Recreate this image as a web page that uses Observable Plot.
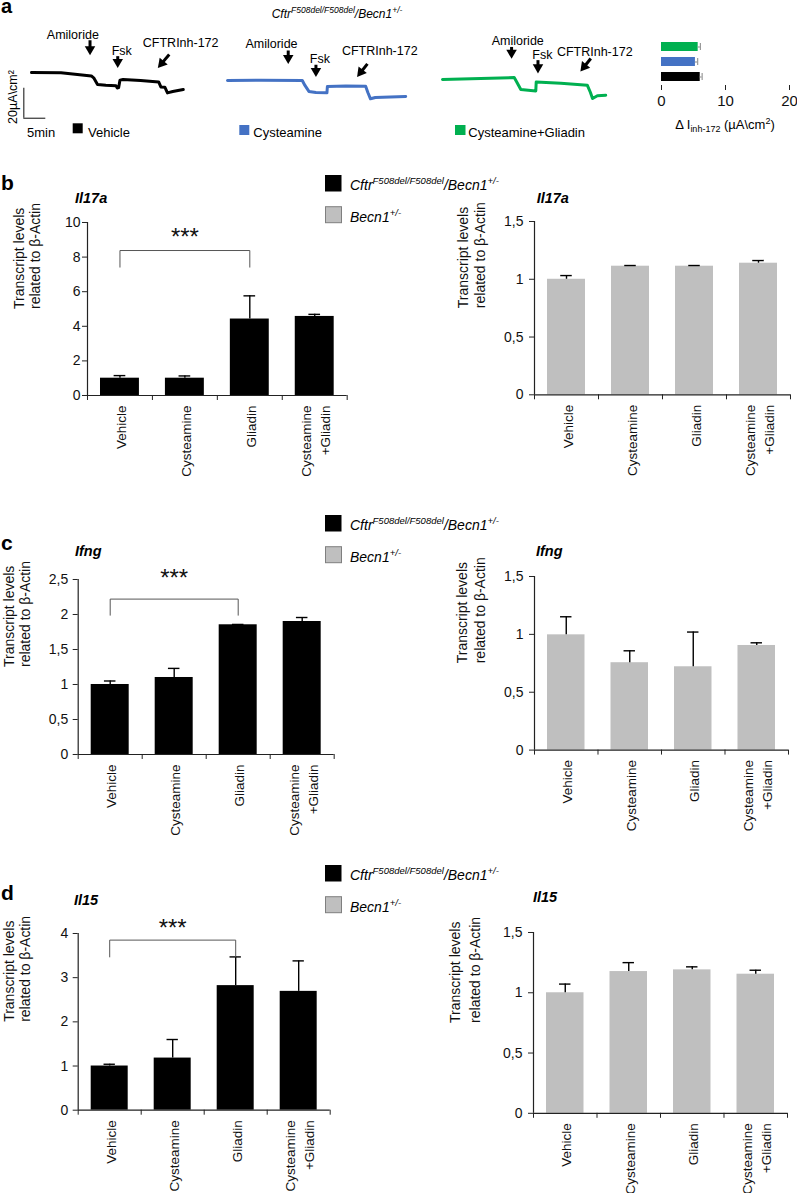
<!DOCTYPE html>
<html><head><meta charset="utf-8">
<script src="https://cdn.jsdelivr.net/npm/d3@7"></script>
<script src="https://cdn.jsdelivr.net/npm/@observablehq/plot@0.6"></script>
<style>
html,body{margin:0;padding:0;background:#fff;}
#fig{position:relative;width:797px;height:1193px;overflow:hidden;font-family:"Liberation Sans",Arial,sans-serif;}
#fig svg{position:absolute;}
</style></head><body><div id="fig"></div>
<script>
// ================= DATA =================
// Panel a: Ussing chamber traces (time in min, current in µA/cm², relative to start)
const vehicleTime    = [0, 6.7, 13.6, 14.2, 15, 16.9, 19.2, 19.5, 19.8, 20.1, 20.8, 24.8, 28.9, 29.4, 30.3, 30.9, 32.1, 34.5];
const vehicleCurrent = [0, -0.1, -2.3, -3.8, -8, -8.5, -8.8, -10.3, -10.1, -5.1, -4.7, -5.3, -6.3, -9.6, -9.8, -13.6, -12.7, -11.3];
const cystTime       = [0, 7.6, 17, 17.6, 18.5, 20.1, 22.6, 22.7, 26.9, 31.4, 31.9, 32.5, 33.6, 37, 40.5];
const cystCurrent    = [0, 0.2, 0, -3.3, -7.3, -8, -8.2, -4, -3.7, -3.8, -8, -12.2, -11.3, -11, -10.7];
const cystGliTime    = [0, 8.7, 16.3, 16.9, 17.8, 21.2, 21.3, 26.9, 32.9, 33.6, 34.1, 35.2, 37.1];
const cystGliCurrent = [0, 0.7, 1.3, -1.8, -6.7, -7.6, -1.6, -2.5, -3.8, -8.5, -12.7, -10.8, -10.5];

// drug additions (label positions and arrows, in trace units)
const eventNames = ["Amiloride", "Fsk", "CFTRInh-172"];
const vehicleEvents = {lt: [9.4, 20.5, 33.9], li: [22.2, 11.5, 17.1], t1: [13.3, 19.6, 31.3], i1: [21.5, 10.9, 12], t2: [13.3, 19.6, 29.6], i2: [15.5, 7, 6.1]};
const cystEvents    = {lt: [10, 21, 34.6], li: [21.5, 11.5, 16.7], t1: [13.8, 20.1, 31.8], i1: [20, 10.5, 11.1], t2: [13.8, 20.1, 30.3], i2: [15, 6.3, 5.5]};
const cystGliEvents = {lt: [17.1, 22.7, 34.6], li: [22.9, 14, 15.5], t1: [15.7, 21.7, 33.7], i1: [21.7, 12.9, 14], t2: [15.7, 21.7, 32.2], i2: [17.8, 8.1, 8.5]};
const scaleBar = {t: -1.75, i: -30.5, dt: 5, di: 20};

// Panel a: Δ I inh-172 (µA/cm²)
const deltaGroups = ["Cysteamine+Gliadin", "Cysteamine", "Vehicle"];
const deltaValues = [5.73, 5.3, 6.05];
const deltaErrors = [0.35, 0.35, 0.3];
const deltaColors = ["#00b050", "#4472c4", "#000000"];
const deltaTicks = [0, 10, 20];

// Panels b–d
const categories = ["Vehicle", "Cysteamine", "Gliadin", "Cysteamine\n+Gliadin"];
const il17aCf      = [1.0, 1.0, 4.42, 4.57];
const il17aCfErr   = [0.15, 0.13, 1.34, 0.12];
const il17aBecn    = [1.0, 1.113, 1.113, 1.139];
const il17aBecnErr = [0.032, 0.006, 0.006, 0.023];
const ifngCf       = [1.0, 1.1, 1.853, 1.9];
const ifngCfErr    = [0.05, 0.13, 0.005, 0.057];
const ifngBecn     = [0.996, 0.755, 0.72, 0.904];
const ifngBecnErr  = [0.156, 0.103, 0.30, 0.023];
const il15Cf       = [1.0, 1.18, 2.82, 2.69];
const il15CfErr    = [0.04, 0.42, 0.65, 0.69];
const il15Becn     = [1.0, 1.176, 1.19, 1.154];
const il15BecnErr  = [0.072, 0.074, 0.025, 0.033];

const ticksB  = [0, 2, 4, 6, 8, 10];
const ticksC  = [0, 0.5, 1, 1.5, 2, 2.5];
const ticksD  = [0, 1, 2, 3, 4];
const ticksR  = [0, 0.5, 1, 1.5];

// ================= LAYOUT / DRAW =================
const FONT = '"Liberation Sans", Arial, sans-serif';
const fig = document.getElementById("fig");
const PXMIN = 4.4, PXUA = 1.5;
const T0 = -5, T1 = 45, I0 = -45, I1 = 30;

function place(svg, left, top) {
  svg.style.left = left + "px";
  svg.style.top = top + "px";
  fig.appendChild(svg);
}

function tracePlot(time, current, color, ev, x0, y0, withScale) {
  const pts = time.map((t, k) => ({t, I: current[k]}));
  const evs = eventNames.map((n, k) => {
    const e = {n, lt: ev.lt[k], li: ev.li[k], t1: ev.t1[k], i1: ev.i1[k], t2: ev.t2[k], i2: ev.i2[k]};
    e.angle = Math.atan2((e.t2 - e.t1) * PXMIN, (e.i2 - e.i1) * PXUA) * 180 / Math.PI;
    return e;
  });
  const marks = [
    Plot.line(pts, {x: "t", y: "I", stroke: color, strokeWidth: 3, strokeLinejoin: "round"}),
    Plot.link(evs, {x1: "t1", y1: "i1", x2: "t2", y2: "i2", stroke: "#000", strokeWidth: 3}),
    Plot.dot(evs, {x: "t2", y: "i2", symbol: "triangle", r: 3.9, fill: "#000", stroke: "none", rotate: "angle"}),
    Plot.text(evs, {x: "lt", y: "li", text: "n", lineAnchor: "bottom", fontSize: 12.5, fill: "#000"})
  ];
  if (withScale) {
    marks.push(Plot.ruleX([scaleBar], {x: "t", y1: "i", y2: d => d.i + d.di, stroke: "#333", strokeWidth: 1.2}));
    marks.push(Plot.ruleY([scaleBar], {y: "i", x1: "t", x2: d => d.t + d.dt, stroke: "#333", strokeWidth: 1.2}));
  }
  const svg = Plot.plot({
    width: (T1 - T0) * PXMIN, height: (I1 - I0) * PXUA, margin: 0,
    x: {domain: [T0, T1], axis: null, label: null}, y: {domain: [I0, I1], axis: null, label: null},
    style: {fontFamily: FONT, overflow: "visible", background: "transparent"},
    marks
  });
  place(svg, x0 + T0 * PXMIN, y0 - I1 * PXUA);
}

tracePlot(vehicleTime, vehicleCurrent, "#000000", vehicleEvents, 30.7, 72.3, true);
tracePlot(cystTime, cystCurrent, "#4472c4", cystEvents, 226.7, 80, false);
tracePlot(cystGliTime, cystGliCurrent, "#00b050", cystGliEvents, 441.7, 79.3, false);

// Δ I inh-172 horizontal bars
(function () {
  const rows = deltaGroups.map((g, k) => ({g, v: deltaValues[k], e: deltaErrors[k], c: deltaColors[k]}));
  const left = 640, top = 30;
  const svg = Plot.plot({
    width: 789 - left + 15, height: 80,
    marginLeft: 661 - left, marginRight: 15, marginTop: 38.3 - top, marginBottom: 25,
    x: {domain: [0, 20], axis: null, label: null},
    y: {domain: deltaGroups, axis: null, label: null, paddingInner: 0.38, paddingOuter: 0.2},
    color: {type: "identity"},
    style: {fontFamily: FONT, fontSize: "15px", overflow: "visible", color: "#111"},
    marks: [
      Plot.barX(rows, {x: "v", y: "g", fill: "c"}),
      Plot.ruleY(rows, {y: "g", x1: "v", x2: d => d.v + d.e, stroke: "#999", strokeWidth: 1.2}),
      Plot.tickX(rows, {y: "g", x: d => d.v + d.e, stroke: "#999", strokeWidth: 1.2, insetTop: 1, insetBottom: 1}),
      Plot.ruleY([0], {frameAnchor: "bottom", stroke: "#222", strokeWidth: 1.2}),
      Plot.axisX({ticks: deltaTicks, tickSize: 5, tickPadding: 5, stroke: "#222", label: null})
    ]
  });
  place(svg, left, top);
})();

// Bar panels b–d
const commaFmt = d => String(d).replace(".", ",");
function barPanel(cfg) {
  const {left, axisX, right, yTop, yZero, yMax, ticks, vals, errs, fill, tickPadding, labelDx, labelLH, bracket} = cfg;
  const marginTop = 45, marginBottom = 95;
  const top = yTop - marginTop;
  const rows = categories.map((c, k) => ({c, k, v: vals[k], e: errs[k]}));
  const marks = [
    Plot.rectY(rows, {x1: d => d.k, x2: d => d.k + 1, y1: 0, y2: "v", fill, insetLeft: 13, insetRight: 13}),
    Plot.ruleX(rows, {x: d => d.k + 0.5, y1: "v", y2: d => d.v + d.e, stroke: "#000", strokeWidth: 1.4}),
    Plot.ruleY(rows, {x1: d => d.k + 0.41, x2: d => d.k + 0.59, y: d => d.v + d.e, stroke: "#000", strokeWidth: 1.4}),
    Plot.ruleX([0], {stroke: "#222", strokeWidth: 1.2}),
    Plot.ruleY([0], {stroke: "#222", strokeWidth: 1.2}),
    Plot.axisY({ticks, tickSize: 5, tickPadding, tickFormat: commaFmt, stroke: "#222", fontSize: 14, label: null}),
    Plot.axisX({ticks: [0, 1, 2, 3, 4], tickSize: 5, tickFormat: () => "", stroke: "#222", label: null}),
    Plot.text(rows, {x: d => d.k + 0.5, y: 0, text: "c", rotate: -90, textAnchor: "end", dy: 10, lineHeight: 1.4, fontSize: 13.5}),
    Plot.text(["Transcript levels\nrelated to β-Actin"], {frameAnchor: "left", dx: labelDx, rotate: -90, lineHeight: labelLH, fontSize: 14})
  ];
  if (bracket) {
    const b = bracket;
    const pts = [[b.from + 0.5, b.leg], [b.from + 0.5, b.top], [b.to + 0.5, b.top], [b.to + 0.5, b.leg]];
    marks.push(Plot.line(pts, {x: d => d[0], y: d => d[1], stroke: "#555", strokeWidth: 1}));
    marks.push(Plot.text([b], {x: d => (d.from + d.to) / 2 + 0.5, y: "star", text: () => "***", fontSize: 24, dy: 6}));
  }
  const svg = Plot.plot({
    width: right - left + 12, height: (yZero - top) + marginBottom,
    marginLeft: axisX - left, marginRight: 12, marginTop, marginBottom,
    x: {domain: [0, 4], axis: null, label: null},
    y: {domain: [0, yMax], axis: null, label: null},
    style: {fontFamily: FONT, fontSize: "14px", overflow: "visible", color: "#111"},
    marks
  });
  place(svg, left, top);
}

barPanel({left: 0, axisX: 87, right: 346.7, yTop: 222, yZero: 395, yMax: 10, ticks: ticksB, vals: il17aCf, errs: il17aCfErr, fill: "#000", tickPadding: 2, labelDx: -60.5, labelLH: 1.15,
  bracket: {from: 0, to: 2, top: 8.38, leg: 7.42, star: 9.5}});
barPanel({left: 390, axisX: 534, right: 790, yTop: 221, yZero: 394.3, yMax: 1.5, ticks: ticksR, vals: il17aBecn, errs: il17aBecnErr, fill: "#bfbfbf", tickPadding: 6, labelDx: -63, labelLH: 1.2});
barPanel({left: 0, axisX: 77.7, right: 333.7, yTop: 579, yZero: 754, yMax: 2.5, ticks: ticksC, vals: ifngCf, errs: ifngCfErr, fill: "#000", tickPadding: 5, labelDx: -61.7, labelLH: 1.15,
  bracket: {from: 0, to: 2, top: 2.22, leg: 1.99, star: 2.6}});
barPanel({left: 390, axisX: 534, right: 788, yTop: 575.7, yZero: 749.3, yMax: 1.5, ticks: ticksR, vals: ifngBecn, errs: ifngBecnErr, fill: "#bfbfbf", tickPadding: 6, labelDx: -64, labelLH: 1.3});
barPanel({left: 0, axisX: 77.7, right: 329.7, yTop: 933.3, yZero: 1110, yMax: 4, ticks: ticksD, vals: il15Cf, errs: il15CfErr, fill: "#000", tickPadding: 5, labelDx: -61.7, labelLH: 1.15,
  bracket: {from: 0, to: 2, top: 3.85, leg: 3.47, star: 4.26}});
barPanel({left: 390, axisX: 533, right: 787, yTop: 931.7, yZero: 1112.5, yMax: 1.5, ticks: ticksR, vals: il15Becn, errs: il15BecnErr, fill: "#bfbfbf", tickPadding: 6, labelDx: -70, labelLH: 1.45});

// ================= TEXT OVERLAY =================
function genotype(x, y, fs, sfs, shift) {
  return `<text x="${x}" y="${y}" font-size="${fs}" font-style="italic">Cftr<tspan font-size="${sfs}" dy="${-shift}">F508del/F508del</tspan><tspan font-size="${fs}" dy="${shift}">/Becn1</tspan><tspan font-size="${sfs}" dy="${-shift}">+/-</tspan></text>`;
}
function becn(x, y, fs, sfs, shift) {
  return `<text x="${x}" y="${y}" font-size="${fs}" font-style="italic">Becn1<tspan font-size="${sfs}" dy="${-shift}">+/-</tspan></text>`;
}
function legend(y1, y2) {
  return `<rect x="325" y="${y1 - 15}" width="16.5" height="16.5" fill="#000"/>` + genotype(350, y1, 14, 9.5, 6) +
         `<rect x="325.5" y="${y2 - 15}" width="16" height="16" fill="#bfbfbf" stroke="#7f7f7f" stroke-width="1"/>` + becn(350, y2, 14, 9.5, 6);
}
const overlay = `
<svg width="797" height="1193" style="left:0;top:0" font-family='${FONT}' fill="#000">
  <text x="1" y="13" font-size="20" font-weight="bold">a</text>
  ${genotype(271.7, 18, 12, 8.5, 5)}
  <text transform="translate(17,97) rotate(-90)" text-anchor="middle" font-size="12.5">20µA\\cm²</text>
  <text x="27" y="136.7" font-size="13">5min</text>
  <rect x="72.7" y="123.3" width="10" height="10" fill="#000"/>
  <text x="88" y="136.7" font-size="13">${deltaGroups[2]}</text>
  <rect x="239.3" y="125" width="10" height="10" fill="#4472c4"/>
  <text x="253.3" y="136.7" font-size="13">${deltaGroups[1]}</text>
  <rect x="455" y="125" width="10.5" height="10" fill="#00b050"/>
  <text x="468.3" y="136.7" font-size="13">${deltaGroups[0]}</text>
  <text x="725" y="129" text-anchor="middle" font-size="13">Δ I<tspan font-size="9" dy="3">inh-172</tspan><tspan font-size="13" dy="-3"> (µA\\cm</tspan><tspan font-size="9" dy="-5">2</tspan><tspan font-size="13" dy="5">)</tspan></text>

  <text x="1" y="190" font-size="21" font-weight="bold">b</text>
  ${legend(190, 221.7)}
  <text x="75" y="202.7" font-size="14.5" font-weight="bold" font-style="italic">Il17a</text>
  <text x="536.7" y="202.7" font-size="14.5" font-weight="bold" font-style="italic">Il17a</text>

  <text x="1" y="550" font-size="21" font-weight="bold">c</text>
  ${legend(530, 561.7)}
  <text x="75" y="556" font-size="14.5" font-weight="bold" font-style="italic">Ifng</text>
  <text x="536" y="556" font-size="14.5" font-weight="bold" font-style="italic">Ifng</text>

  <text x="1" y="900" font-size="21" font-weight="bold">d</text>
  ${legend(880, 911.7)}
  <text x="74" y="905" font-size="14.5" font-weight="bold" font-style="italic">Il15</text>
  <text x="533" y="901.7" font-size="14.5" font-weight="bold" font-style="italic">Il15</text>
</svg>`;
fig.insertAdjacentHTML("beforeend", overlay);
</script></body></html>
